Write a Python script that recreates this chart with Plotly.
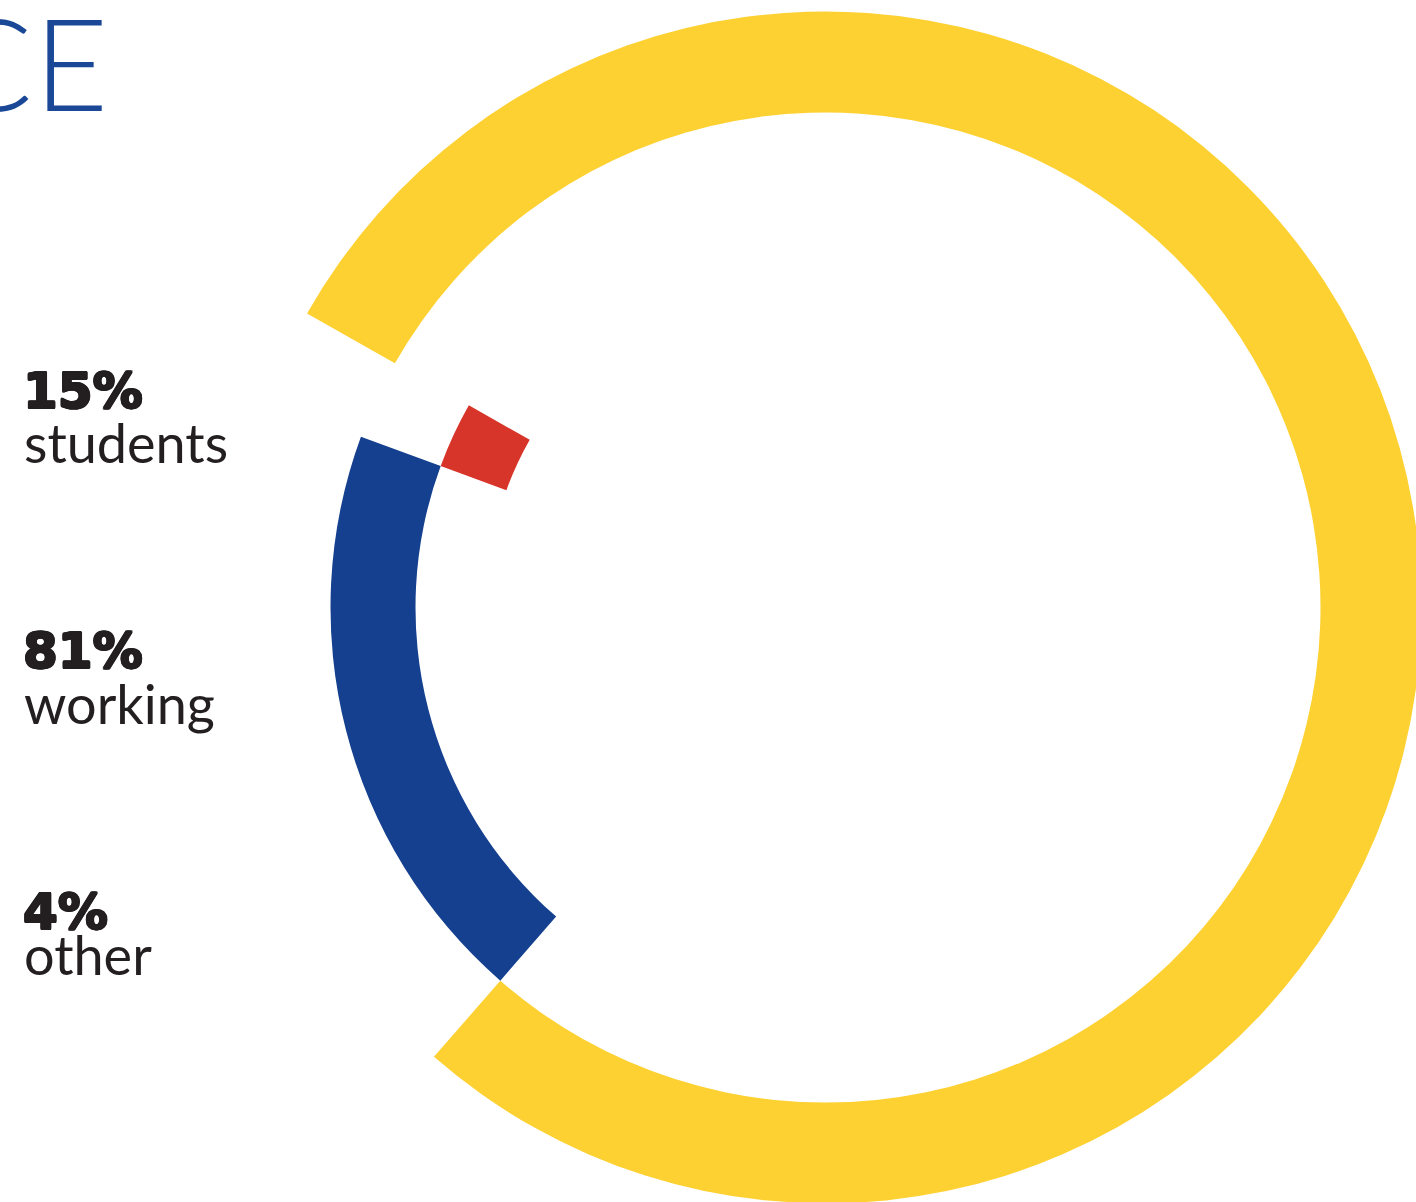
import plotly.graph_objects as go
import numpy as np

# ---- data ----
categories = ["working", "students", "other"]
arc_share = [78.2, 19.2, 2.6]          # share of the full circle each arc covers, as drawn (%)
pct_labels = ["15%", "81%", "4%"]
name_labels = ["students", "working", "other"]

# ---- styles ----
colors = ["#FED132", "#15408F", "#D7352A"]
inner_r = [495, 410, 340]
thick = [101, 85, 70]
W, H = 1424, 1210            # slightly larger than the 1416x1202 window; overflow hidden
cx, cy = 825.5, 607.5
S = W - cx                   # half-size of polar domain (px)
INK = "#231F20"
heavy = ", ".join(f"{dx}px {dy}px 0 {INK}" for dx, dy in
                  ((1.1, 0), (-1.1, 0), (0, 0.8), (0, -0.8), (0.8, 0.6), (-0.8, 0.6), (0.8, -0.6), (-0.8, -0.6)))

share = np.array(arc_share)
deg = share * 3.6
theta = np.cumsum(deg) - deg / 2

fig = go.Figure()
fig.add_trace(go.Barpolar(
    r=thick, base=inner_r, theta=theta, width=deg,
    marker=dict(color=colors, line=dict(width=0)),
    text=categories, hoverinfo="text", showlegend=False,
))

fig.update_layout(
    width=W, height=H,
    margin=dict(l=0, r=0, t=0, b=0),
    paper_bgcolor="white", plot_bgcolor="white",
    polar=dict(
        domain=dict(x=[(cx - S) / W, 1], y=[(H - cy - S) / H, (H - cy + S) / H]),
        bgcolor="rgba(0,0,0,0)",
        hole=0,
        radialaxis=dict(range=[0, S], visible=False, showgrid=False),
        angularaxis=dict(visible=False, showgrid=False, direction="clockwise",
                         rotation=150.45, thetaunit="degrees"),
        bargap=0,
    ),
    font=dict(family="Lato", color=INK),
)


def px(x, y):
    return x / W, 1 - y / H


ann = []
# title fragment (cut by the left edge)
for ch, x0 in (("C", -56), ("E", 32)):
    ax, ay = px(x0, -17)
    ann.append(dict(text=ch, x=ax, y=ay, xref="paper", yref="paper",
                    xanchor="left", yanchor="top", showarrow=False,
                    font=dict(family="Lato", size=128, color="#1A4897", weight=300)))
pct_y = [372, 632, 893]
name_y = [425, 686, 937]
for p, n, py, ny in zip(pct_labels, name_labels, pct_y, name_y):
    ax, ay = px(21, py - 12.5)
    ann.append(dict(text=p, x=ax, y=ay, xref="paper", yref="paper",
                    xanchor="left", yanchor="top", showarrow=False,
                    font=dict(family="DejaVu Sans", size=50, color=INK, weight="bold",
                              shadow=heavy)))
    ax, ay = px(22, ny - 17)
    ann.append(dict(text=n, x=ax, y=ay, xref="paper", yref="paper",
                    xanchor="left", yanchor="top", showarrow=False,
                    font=dict(family="Lato", size=54, color=INK)))
fig.update_layout(annotations=ann)

fig.write_html(
    "out.html",
    config={"displayModeBar": False},
    post_script="document.body.style.margin='0';document.body.style.overflow='hidden';",
)
